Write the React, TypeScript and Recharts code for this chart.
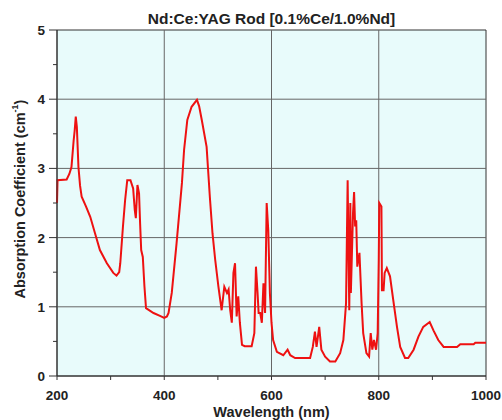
import {
  LineChart,
  Line,
  XAxis,
  YAxis,
  Label,
  ReferenceArea,
  ReferenceLine,
} from "recharts";

// wavelength (nm) and absorption coefficient (cm^-1)
const wavelength = [
  200, 201, 218, 223, 227, 231, 233, 235, 237, 240, 243, 246, 254, 262, 271,
  280, 293, 305, 311, 316, 318, 323, 327, 331, 337, 342, 345, 347, 350, 353,
  355, 357, 360, 363, 366, 380, 392, 400, 405, 408, 414, 423, 433, 437, 443,
  451, 461, 465, 470, 479, 485, 490, 495, 501, 507, 512, 517, 520, 523, 526,
  529, 532, 535, 538, 541, 545, 550, 563, 568, 571, 574, 576, 579, 582, 585,
  588, 591, 594, 597, 600, 603, 610, 622, 630, 635, 644, 672, 677, 681, 684,
  689, 693, 700, 709, 719, 728, 734, 739, 742, 745, 747, 748, 752, 754, 756,
  758, 760, 764, 768, 771, 777, 782, 785, 788, 791, 795, 798, 800, 801, 805,
  806, 809, 811, 815, 821, 827, 834, 840, 849, 855, 865, 874, 883, 895, 902,
  911, 921, 946, 952, 977, 980, 1000,
];
const absorption = [
  2.5, 2.83, 2.84, 2.92, 3.02, 3.4, 3.55, 3.75, 3.6, 3.02, 2.75, 2.59, 2.45,
  2.3, 2.06, 1.82, 1.63, 1.49, 1.45, 1.5, 1.63, 2.16, 2.54, 2.83, 2.83, 2.71,
  2.4, 2.28, 2.76, 2.64, 2.2, 1.82, 1.72, 1.3, 0.98, 0.91, 0.87, 0.84, 0.86,
  0.91, 1.2, 1.92, 2.79, 3.27, 3.7, 3.89, 3.99, 3.9, 3.7, 3.31, 2.59, 2.06,
  1.68, 1.29, 0.95, 1.29, 1.2, 1.25, 0.95, 0.77, 1.49, 1.63, 0.86, 1.15, 0.77,
  0.45, 0.43, 0.43, 0.62, 1.58, 1.2, 0.91, 0.91, 0.77, 1.34, 0.91, 2.5, 2.1,
  1.2, 0.77, 0.52, 0.35, 0.3, 0.38, 0.3, 0.26, 0.26, 0.42, 0.64, 0.42, 0.71,
  0.38, 0.28, 0.21, 0.21, 0.33, 0.52, 1.05, 2.83, 0.95, 2.5, 1.2, 2.35, 2.66,
  2.16, 2.25, 1.58, 1.78, 1.05, 0.62, 0.33, 0.28, 0.62, 0.38, 0.52, 0.38, 0.62,
  1.68, 2.5, 2.45, 1.24, 1.24, 1.49, 1.56, 1.44, 1.1, 0.71, 0.42, 0.26, 0.26,
  0.38, 0.57, 0.71, 0.78, 0.66, 0.52, 0.42, 0.42, 0.46, 0.46, 0.48, 0.48,
];

const xTicks = [200, 300, 400, 500, 600, 700, 800, 900, 1000];
const xMajor = [200, 400, 600, 800, 1000];
const yTicks = [0, 0.5, 1, 1.5, 2, 2.5, 3, 3.5, 4, 4.5, 5];
const xGrid = [400, 600, 800];
const yGrid = [1, 2, 3, 4];

const data = wavelength.map((w, i) => ({ w, a: absorption[i] }));

const FONT = "'Liberation Sans', Arial, sans-serif";
const AXIS = "#333";

const XTick = (props: any) => {
  const { x, y, payload } = props;
  const major = xMajor.includes(payload.value);
  return (
    <g>
      <line x1={x} x2={x} y1={y} y2={y + 4} stroke={AXIS} />
      {major ? (
        <text
          x={x}
          y={y + 24}
          textAnchor="middle"
          fontSize={13.5}
          fontWeight="bold"
          fontFamily={FONT}
          fill="#222"
        >
          {payload.value}
        </text>
      ) : null}
    </g>
  );
};

const YTick = (props: any) => {
  const { x, y, payload } = props;
  const major = Number.isInteger(payload.value);
  return (
    <g>
      <line x1={x - (major ? 8 : 4)} x2={x} y1={y} y2={y} stroke={AXIS} />
      {major ? (
        <text
          x={x - 12}
          y={y + 5}
          textAnchor="end"
          fontSize={13.5}
          fontWeight="bold"
          fontFamily={FONT}
          fill="#222"
        >
          {payload.value}
        </text>
      ) : null}
    </g>
  );
};

const XTitle = (props: any) => {
  const { viewBox } = props;
  return (
    <text
      x={viewBox.x + viewBox.width / 2}
      y={viewBox.y + viewBox.height - 3}
      textAnchor="middle"
      fontSize={14.5}
      fontWeight="bold"
      fontFamily={FONT}
      fill="#222"
    >
      Wavelength (nm)
    </text>
  );
};

const YTitle = (props: any) => {
  const { viewBox } = props;
  const cx = viewBox.x + 20;
  const cy = viewBox.y + viewBox.height / 2 - 4;
  return (
    <text
      x={cx}
      y={cy}
      transform={`rotate(-90 ${cx} ${cy})`}
      textAnchor="middle"
      dominantBaseline="central"
      fontSize={14.5}
      fontWeight="bold"
      fontFamily={FONT}
      fill="#222"
    >
      Absorption Coefficient (cm
      <tspan dy={-5} fontSize={9}>
        -1
      </tspan>
      <tspan dy={5}>)</tspan>
    </text>
  );
};

const App = () => {
  return (
    <div style={{ position: "relative", width: 502, height: 420 }}>
      <style>{"body{margin:0}"}</style>
      <div
        style={{
          position: "absolute",
          top: 11,
          left: 57,
          width: 429,
          textAlign: "center",
          fontFamily: FONT,
          fontWeight: "bold",
          fontSize: 15.5,
          color: "#222",
          lineHeight: "16px",
        }}
      >
        Nd:Ce:YAG Rod [0.1%Ce/1.0%Nd]
      </div>
      <LineChart
        width={502}
        height={420}
        data={data}
        margin={{ top: 30, right: 16, bottom: 0, left: 0 }}
      >
        <XAxis
          dataKey="w"
          type="number"
          domain={[200, 1000]}
          ticks={xTicks}
          interval={0}
          height={44}
          tickSize={0}
          tickMargin={0}
          tickLine={false}
          tick={<XTick />}
          stroke={AXIS}
        >
          <Label content={<XTitle />} />
        </XAxis>
        <YAxis
          type="number"
          domain={[0, 5]}
          ticks={yTicks}
          interval={0}
          width={57}
          tickSize={0}
          tickMargin={0}
          tickLine={false}
          tick={<YTick />}
          stroke={AXIS}
        >
          <Label content={<YTitle />} />
        </YAxis>
        <ReferenceArea
          x1={200}
          x2={1000}
          y1={0}
          y2={5}
          fill="#e8fbfb"
          fillOpacity={1}
          stroke={AXIS}
          strokeWidth={1}
        />
        {xGrid.map((v) => (
          <ReferenceLine key={`x${v}`} x={v} stroke="#666" />
        ))}
        {yGrid.map((v) => (
          <ReferenceLine key={`y${v}`} y={v} stroke="#666" />
        ))}
        <Line
          type="linear"
          dataKey="a"
          stroke="#ee1111"
          strokeWidth={2}
          dot={false}
          activeDot={false}
          isAnimationActive={false}
        />
      </LineChart>
    </div>
  );
};

export default App;
